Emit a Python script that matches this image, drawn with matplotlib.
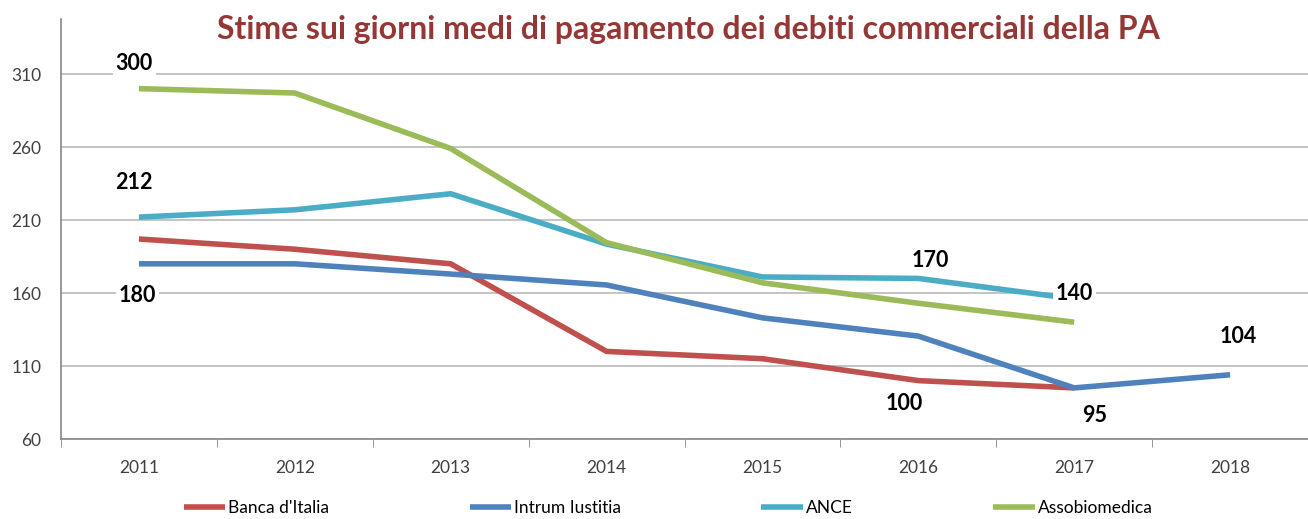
import numpy as np
import matplotlib
matplotlib.use("Agg")
from matplotlib import pyplot as plt

plt.rcParams['font.family'] = ['Lato', 'DejaVu Sans']

# data
years = ["2011", "2012", "2013", "2014", "2015", "2016", "2017", "2018"]
banca = [197, 190, 180, 120, 115, 100, 95, np.nan]
intrum = [180, 180, 173, 165.5, 143, 130.5, 95, 104]
ance = [212, 217, 228, 193.5, 171, 170, 156, np.nan]
asso = [300, 297, 259, 194.5, 167, 153, 140, np.nan]

names = ["Banca d'Italia", "Intrum Iustitia", "ANCE", "Assobiomedica"]
colors = ["#C0504D", "#4F81BD", "#4BACC6", "#9BBB59"]
series = [banca, intrum, ance, asso]

fig = plt.figure(figsize=(13.08, 5.19), dpi=100)
ax = fig.add_axes([61 / 1308, 1 - 439 / 519, 1 - 61 / 1308, (439 - 19) / 519])

x = np.arange(len(years))
for vals, name, c in zip(series, names, colors):
    ax.plot(x, vals, color=c, lw=4, label=name, solid_capstyle='butt', zorder=3)

# data labels: (series, index, dx, dy)
labels = [
    (asso, 0, -0.03, 17.5),
    (ance, 0, -0.03, 24),
    (intrum, 0, -0.01, -21.5),
    (ance, 5, 0.08, 12),
    (asso, 6, 0.0, 20),
    (intrum, 7, 0.05, 26),
    (banca, 5, -0.09, -16),
    (intrum, 6, 0.13, -19),
]
for vals, i, dx, dy in labels:
    ax.text(x[i] + dx, vals[i] + dy, "%d" % vals[i], ha='center', va='center',
            fontsize=15.5, fontweight='bold', color='black', zorder=5,
            bbox=dict(facecolor='white', edgecolor='none', pad=2))

ax.set_xlim(-0.5, 7.5)
ax.set_ylim(60, 347.7)
ax.set_yticks(range(60, 311, 50))
ax.set_xticks(x)
ax.set_xticklabels(years)
ax.set_xticks(np.arange(-0.5, 8, 1), minor=True)
ax.tick_params(axis='x', which='major', length=0, pad=15, labelsize=12.5, colors='#404040')
ax.tick_params(axis='x', which='minor', length=6, color='#868686', direction='out')
ax.tick_params(axis='y', length=0, pad=14, labelsize=12.5, colors='#404040')
ax.grid(axis='y', color='#BFBFBF', lw=1.3)
ax.set_axisbelow(True)
for s in ['top', 'right']:
    ax.spines[s].set_visible(False)
for s in ['left', 'bottom']:
    ax.spines[s].set_color('#868686')
    ax.spines[s].set_linewidth(1.2)

fig.text(688 / 1308, 1 - 30 / 519, "Stime sui giorni medi di pagamento dei debiti commerciali della PA",
         ha='center', va='center', fontsize=23, fontweight='bold', color='#953735')

fig.legend(loc='center', bbox_to_anchor=(668 / 1308, 1 - 508 / 519), ncol=4,
           frameon=False, fontsize=12.5, handlelength=2.4, handletextpad=0.15,
           columnspacing=8.1)

fig.savefig("out.png", dpi=100)
